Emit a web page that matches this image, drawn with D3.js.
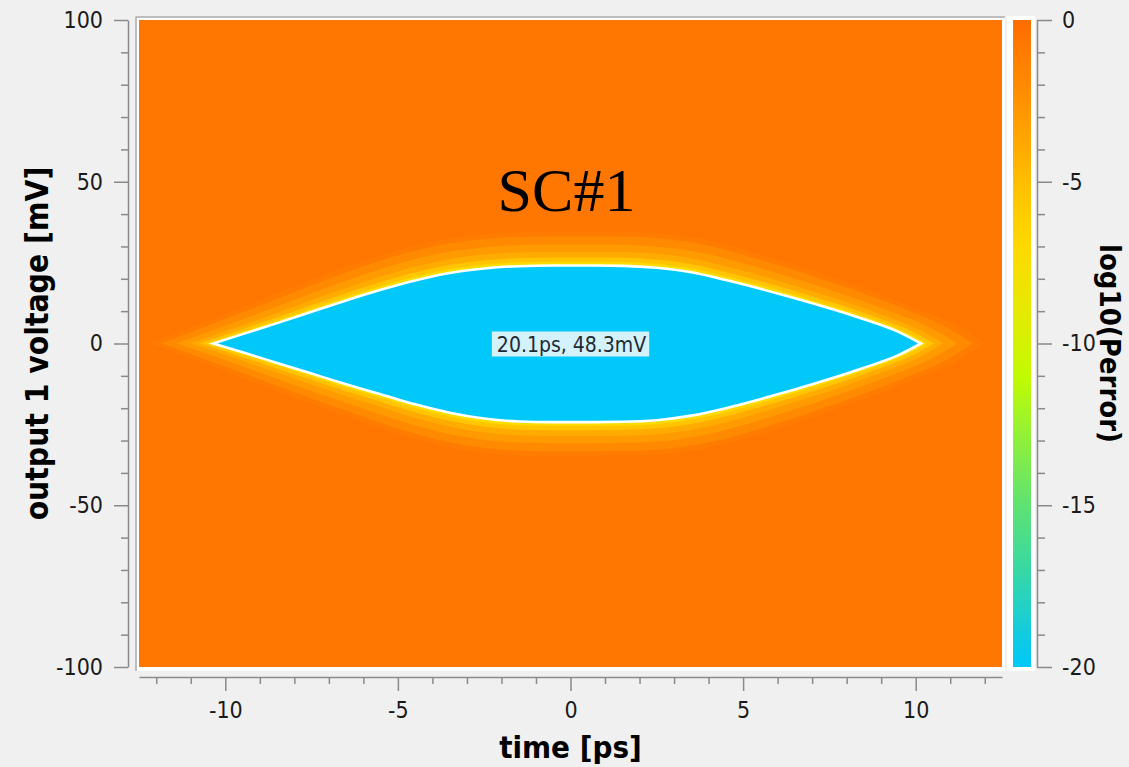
<!DOCTYPE html>
<html>
<head>
<meta charset="utf-8">
<script src="https://cdn.jsdelivr.net/npm/d3@7/dist/d3.min.js"></script>
<style>
  html, body { margin: 0; padding: 0; background: #f0f0f0; }
  svg { display: block; }
</style>
</head>
<body>
<script>
// ---------------- data ----------------
const eyeTime  = [-10.35, -9.5, -8.5, -7.5, -6.5, -5.5, -4.5, -3.5, -2.5, -1.5, -0.5, 0.5, 1.5, 2.5, 3.5, 4.5, 5.5, 6.5, 7.5, 8.5, 9.5, 10.15];
const eyeUpper = [0, 2.9, 6.3, 9.8, 13.3, 16.6, 19.5, 21.8, 23.2, 23.9, 24.1, 24.1, 24.0, 23.4, 22.0, 19.6, 16.9, 14.0, 10.9, 7.5, 3.6, 0];
const eyeLower = [0, -2.7, -6.0, -9.3, -12.6, -15.7, -18.8, -21.4, -23.2, -24.1, -24.3, -24.3, -24.2, -23.7, -22.3, -20.0, -17.2, -14.2, -11.0, -7.5, -3.6, 0];

// contour bands around the eye: log10(Perror) level, vertical margin [mV], tip margin [ps]
const bandLevels  = [-1, -2, -3, -4, -5.5, -7, -8.5];
const bandMarginV = [10.5, 9.0, 6.5, 4.3, 2.5, 1.2, 0.6];
const bandMarginT = [1.85, 1.5, 1.05, 0.65, 0.38, 0.18, 0.09];
const backgroundLevel = -0.6;
const eyeLevel = -20;

const colorLevels = [0, -1, -2, -3, -4, -5, -6, -7, -9, -11, -13, -15, -17, -19, -20];
const colorValues = ['#ff6c00', '#ff7c00', '#ff8a00', '#ff9a00', '#ffab00', '#ffbe00', '#ffcd00', '#ffd900',
                     '#e6ea00', '#c2fb00', '#8ef03c', '#5ee272', '#38d8a4', '#12cbe0', '#00c8f8'];

const timeMajorTicks = [-10, -5, 0, 5, 10];
const timeMinorTicks = [-12, -11, -9, -8, -7, -6, -4, -3, -2, -1, 1, 2, 3, 4, 6, 7, 8, 9, 11, 12];
const voltMajorTicks = [-100, -50, 0, 50, 100];
const voltMinorTicks = [-90, -80, -70, -60, -40, -30, -20, -10, 10, 20, 30, 40, 60, 70, 80, 90];
const cbarMajorTicks = [0, -5, -10, -15, -20];
const cbarMinorTicks = [-1, -2, -3, -4, -6, -7, -8, -9, -11, -12, -13, -14, -16, -17, -18, -19];

const chartTitle = 'SC#1';
const xTitle = 'time [ps]';
const yTitle = 'output 1 voltage [mV]';
const cTitle = 'log10(Perror)';
const eyeLabel = '20.1ps, 48.3mV';

// ---------------- drawing ----------------
const W = 1129, H = 767;
const svg = d3.select('body').append('svg').attr('width', W).attr('height', H);
svg.append('rect').attr('width', W).attr('height', H).attr('fill', '#f0f0f0');

const x = d3.scaleLinear().domain([-12.5, 12.5]).range([139, 1002]);
const y = d3.scaleLinear().domain([-100, 100]).range([667, 20]);
const c = d3.scaleLinear().domain([-20, 0]).range([667, 20]);
const color = d3.scaleLinear().domain(colorLevels).range(colorValues).clamp(true);
const fmt = d => String(d);   // plain hyphen minus, as in the reference

const tickFont = "'DejaVu Sans Condensed', 'DejaVu Sans', sans-serif";
const axisGray = '#8a8a8a';

// plot frame
svg.append('rect').attr('x', 135).attr('y', 16).attr('width', 870).attr('height', 655).attr('fill', '#ffffff');
svg.append('path').attr('d', 'M136,671V17H1005').attr('fill', 'none').attr('stroke', '#a8a8a8').attr('stroke-width', 1.5);
svg.append('rect').attr('x', x(-12.5)).attr('y', y(100))
  .attr('width', x(12.5) - x(-12.5)).attr('height', y(-100) - y(100))
  .attr('fill', color(backgroundLevel));

const plot = svg.append('g');
const upMax = d3.max(eyeUpper), loMax = -d3.min(eyeLower);
const tipL = -eyeTime[0], tipR = eyeTime[eyeTime.length - 1];
const idx = d3.range(eyeTime.length);

bandLevels.forEach((lev, i) => {
  const kvU = 1 + bandMarginV[i] / upMax, kvL = 1 + bandMarginV[i] / loMax;
  const ktL = 1 + bandMarginT[i] / tipL, ktR = 1 + bandMarginT[i] / tipR;
  const area = d3.area()
    .x(j => x(eyeTime[j] * (eyeTime[j] < 0 ? ktL : ktR)))
    .y0(j => y(eyeLower[j] * kvL))
    .y1(j => y(eyeUpper[j] * kvU))
    .curve(d3.curveMonotoneX);
  plot.append('path').attr('d', area(idx)).attr('fill', color(lev));
});

const eyeArea = d3.area()
  .x(j => x(eyeTime[j]))
  .y0(j => y(eyeLower[j]))
  .y1(j => y(eyeUpper[j]))
  .curve(d3.curveMonotoneX);
plot.append('path').attr('d', eyeArea(idx))
  .attr('fill', color(eyeLevel)).attr('stroke', '#ffffff').attr('stroke-width', 2.6).attr('stroke-linejoin', 'miter');

// eye label
const lab = plot.append('g');
const labText = lab.append('text').attr('x', x(0) + 1).attr('y', y(0) + 1)
  .attr('text-anchor', 'middle').attr('dominant-baseline', 'central')
  .attr('font-family', tickFont).attr('font-size', 21).attr('fill', '#1e2a33').text(eyeLabel);
const bb = labText.node().getBBox();
lab.insert('rect', 'text').attr('x', bb.x - 5).attr('y', y(0) - 12).attr('width', bb.width + 8).attr('height', 25)
  .attr('fill', '#d4f2fb');

// title
svg.append('text').attr('x', x(0) - 4).attr('y', 211).attr('text-anchor', 'middle')
  .attr('font-family', "'Liberation Serif', 'DejaVu Serif', serif").attr('font-size', 62).attr('fill', '#000')
  .text(chartTitle);

// axes helper
function styleAxis(g) {
  g.selectAll('path.domain').attr('stroke', axisGray).attr('stroke-width', 1.5);
  g.selectAll('.tick line').attr('stroke', axisGray).attr('stroke-width', 1.5);
  g.selectAll('.tick text').attr('font-family', tickFont).attr('font-size', 23).attr('fill', '#1a1a1a');
}

// y axis
const gy = svg.append('g').attr('transform', 'translate(128,0)');
gy.call(d3.axisLeft(y).tickValues(voltMajorTicks).tickFormat(fmt).tickSize(14).tickSizeOuter(0).tickPadding(11));
gy.append('g').call(d3.axisLeft(y).tickValues(voltMinorTicks).tickSize(7).tickFormat('')).select('path.domain').remove();
styleAxis(gy);

// x axis
const gx = svg.append('g').attr('transform', 'translate(0,677)');
gx.call(d3.axisBottom(x).tickValues(timeMajorTicks).tickFormat(fmt).tickSize(14).tickSizeOuter(0).tickPadding(11));
gx.append('g').call(d3.axisBottom(x).tickValues(timeMinorTicks).tickSize(7).tickFormat('')).select('path.domain').remove();
styleAxis(gx);

// colorbar
svg.append('rect').attr('x', 1007).attr('y', 16).attr('width', 28).attr('height', 655).attr('fill', '#ffffff');
const defs = svg.append('defs');
const grad = defs.append('linearGradient').attr('id', 'cbar').attr('x1', 0).attr('y1', 1).attr('x2', 0).attr('y2', 0);
colorLevels.slice().reverse().forEach(l => {
  grad.append('stop').attr('offset', (l + 20) / 20).attr('stop-color', color(l));
});
svg.append('rect').attr('x', 1013).attr('y', c(0)).attr('width', 18).attr('height', c(-20) - c(0))
  .attr('fill', 'url(#cbar)');
const gc = svg.append('g').attr('transform', 'translate(1037,0)');
gc.call(d3.axisRight(c).tickValues(cbarMajorTicks).tickFormat(fmt).tickSize(15).tickSizeOuter(0).tickPadding(10));
gc.append('g').call(d3.axisRight(c).tickValues(cbarMinorTicks).tickSize(8).tickFormat('')).select('path.domain').remove();
styleAxis(gc);

// axis titles
const boldFont = "'DejaVu Sans Condensed', 'DejaVu Sans', sans-serif";
svg.append('text').attr('x', x(0)).attr('y', 758).attr('text-anchor', 'middle')
  .attr('font-family', boldFont).attr('font-weight', 'bold').attr('font-size', 31).attr('fill', '#000').text(xTitle);
svg.append('text').attr('transform', `translate(48,${y(0)}) rotate(-90)`).attr('text-anchor', 'middle')
  .attr('font-family', boldFont).attr('font-weight', 'bold').attr('font-size', 31.5).attr('fill', '#000').text(yTitle);
svg.append('text').attr('transform', `translate(1100,${c(-10)}) rotate(90)`).attr('text-anchor', 'middle')
  .attr('font-family', boldFont).attr('font-weight', 'bold').attr('font-size', 29).attr('fill', '#000').text(cTitle);
</script>
</body>
</html>
